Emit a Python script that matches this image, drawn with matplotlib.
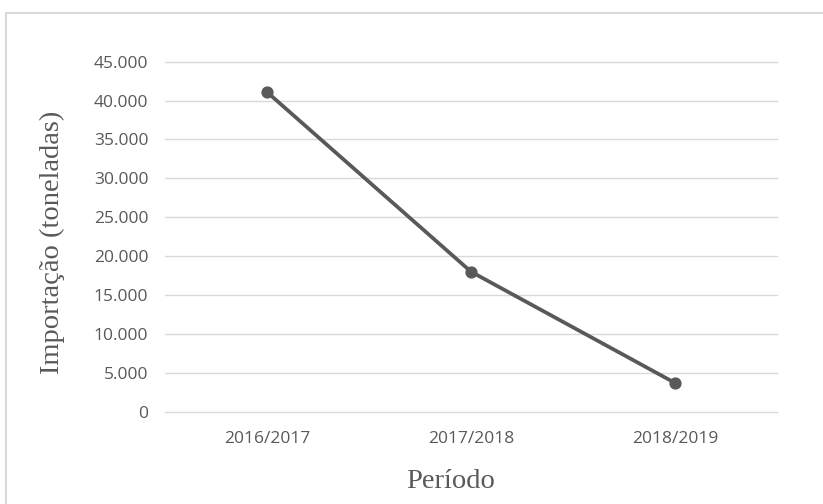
import matplotlib
matplotlib.use("Agg")
import matplotlib.pyplot as plt
from matplotlib import font_manager
from matplotlib.patches import Rectangle
from matplotlib.ticker import FuncFormatter, MultipleLocator

periods = ["2016/2017", "2017/2018", "2018/2019"]
imports_t = [41100, 18000, 3700]

installed = {f.name for f in font_manager.fontManager.ttflist}
serif = [n for n in ["Liberation Serif", "Times New Roman", "DejaVu Serif"] if n in installed]
sans = [n for n in ["Open Sans", "Lato", "DejaVu Sans"] if n in installed]

fig = plt.figure(figsize=(8.23, 5.04), dpi=100)
fig.patch.set_facecolor("white")

# outer chart frame
fig.add_artist(Rectangle((6 / 823, -0.05), 1.2, 1 - 13 / 504 + 0.05,
                         transform=fig.transFigure, fill=False,
                         edgecolor="#d9d9d9", linewidth=1.5))

ax = fig.add_axes([165 / 823, 1 - 411.7 / 504, 612 / 823, 350 / 504])
x = range(len(periods))
ax.plot(x, imports_t, color="#595959", linewidth=2.7, marker="o",
        markersize=7.8, solid_capstyle="round", zorder=3)

ax.set_xlim(-0.5, len(periods) - 0.5)
ax.set_ylim(0, 45000)
ax.yaxis.set_major_locator(MultipleLocator(5000))
ax.yaxis.set_major_formatter(FuncFormatter(lambda v, p: f"{int(v):,}".replace(",", ".")))
ax.set_xticks(list(x))
ax.set_xticklabels(periods)

for s in ax.spines.values():
    s.set_visible(False)
ax.grid(axis="y", color="#d9d9d9", linewidth=1)
for gl in ax.get_ygridlines():
    gl.set_clip_on(False)
ax.set_axisbelow(True)
ax.tick_params(axis="both", length=0, labelsize=12.5, labelcolor="#595959")
ax.tick_params(axis="y", pad=12)
ax.tick_params(axis="x", pad=14)
for lbl in ax.get_xticklabels() + ax.get_yticklabels():
    lbl.set_family(sans)

ax.set_ylabel("Importação (toneladas)", family=serif, fontsize=20.5,
              color="#595959")
ax.yaxis.set_label_coords(-0.163, 0.483)
ax.set_xlabel("Período", family=serif, fontsize=20.5, color="#595959")
ax.xaxis.set_label_coords(0.467, -0.164)

fig.savefig("out.png", dpi=100, facecolor="white")
